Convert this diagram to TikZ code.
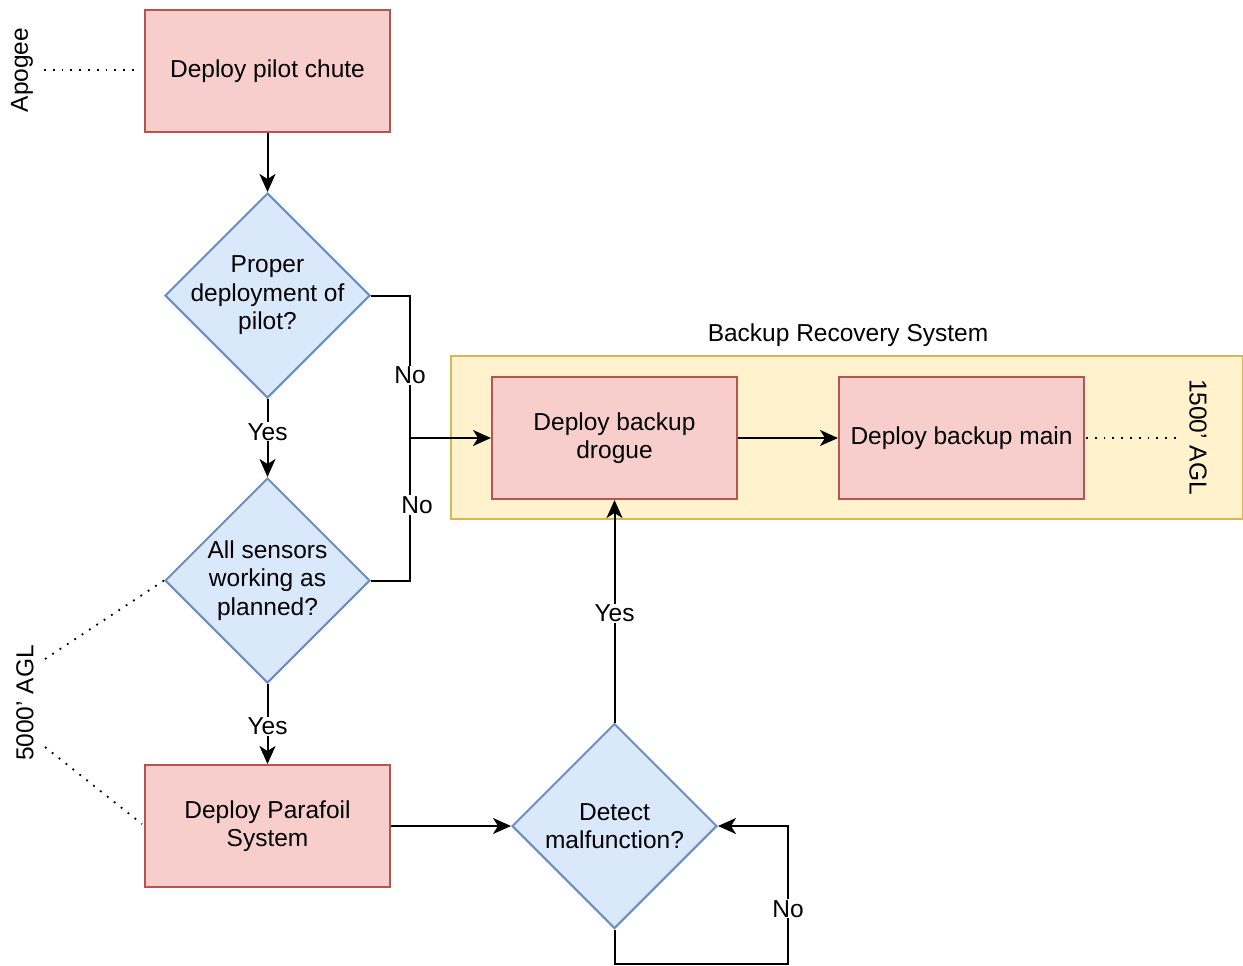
\documentclass[tikz,border=0pt]{standalone}
\usepackage{fontspec}
\setmainfont{Liberation Sans}
\usetikzlibrary{shapes.geometric,arrows.meta}
\definecolor{redfill}{HTML}{F8CECC}
\definecolor{redline}{HTML}{B85450}
\definecolor{bluefill}{HTML}{DAE8FC}
\definecolor{blueline}{HTML}{6C8EBF}
\definecolor{yelfill}{HTML}{FFF2CC}
\definecolor{yelline}{HTML}{D6B656}
\tikzset{
  redbox/.style={draw=redline, fill=redfill, line width=2pt, minimum width=245pt, minimum height=122pt, inner sep=0pt, align=center},
  decision/.style={diamond, draw=blueline, fill=bluefill, line width=2pt, minimum width=205pt, minimum height=205pt, shape aspect=1, inner sep=-12pt, align=center},
  flow/.style={line width=2pt, -{Stealth[length=18pt,width=16pt,inset=5pt]}},
  plainline/.style={line width=2pt},
  lbl/.style={fill=white, inner sep=1pt},
  dots/.style={line width=1.8pt, dash pattern=on 1.8pt off 7pt},
  txt/.style={font=\fontsize{24.5pt}{28.5pt}\selectfont}
}
\begin{document}
\begin{tikzpicture}[x=1pt,y=-1pt, every node/.style={txt}]
\useasboundingbox (0,0) rectangle (1243,966);
% container
\node[draw=yelline, fill=yelfill, line width=2pt, minimum width=792pt, minimum height=163pt, inner sep=0pt] (cont) at (847,437.5) {};
\node (contlbl) at (848,335) {Backup Recovery System};
% nodes
\node[redbox] (pilot) at (267.5,71) {Deploy pilot chute};
\node[decision] (d1) at (267.5,295.5) {Proper\\deployment of\\pilot?};
\node[decision] (d2) at (267.5,580.5) {All sensors\\working as\\planned?};
\node[redbox] (para) at (267.5,826) {Deploy Parafoil\\System};
\node[decision] (d3) at (614.5,826) {Detect\\malfunction?};
\node[redbox] (drogue) at (614.5,438) {Deploy backup\\drogue};
\node[redbox] (main) at (961.5,438) {Deploy backup main};
% side labels
\node[rotate=90] (apogee) at (22,70) {Apogee};
\node[rotate=90] (agl5) at (25,703) {5000' AGL};
\node[rotate=-90] (agl15) at (1198,437) {1500' AGL};
% coordinates
\coordinate (j1) at (410,295.5);
\coordinate (j2) at (410,580.5);
\coordinate (jm) at (410,438);
\coordinate (l1) at (614.5,964);
\coordinate (l2) at (788,964);
\coordinate (l3) at (788,826);
\coordinate (a1) at (44,70);
\coordinate (a2) at (139,70);
\coordinate (b1) at (1086,438);
\coordinate (b2) at (1180,438);
\coordinate (c1) at (45,659);
\coordinate (c2) at (45,747);
\coordinate (c3) at (142,824);
% connectors
\draw[flow] (pilot.south) -- (d1.north);
\draw[flow] (d1.south) -- node[lbl, pos=0.42] {Yes} (d2.north);
\draw[flow] (d2.south) -- node[lbl, pos=0.53] {Yes} (para.north);
\draw[plainline] (d1.east) -- (j1) -- node[lbl, pos=0.56] (no1) {No} (jm);
\draw[plainline] (d2.east) -- (j2) -- node[lbl, pos=0.53, xshift=7pt] (no2) {No} (jm);
\draw[flow] (jm) -- (drogue.west);
\draw[flow] (drogue.east) -- (main.west);
\draw[flow] (para.east) -- (d3.west);
\draw[flow] (d3.north) -- node[lbl, pos=0.49] {Yes} (drogue.south);
\draw[flow] (d3.south) -- (l1) -- (l2) -- node[lbl, pos=0.4] {No} (l3) -- (d3.east);
% dotted
\draw[dots] (a1) -- (a2);
\draw[dots] (b1) -- (b2);
\draw[dots] (c1) -- (d2.west);
\draw[dots] (c2) -- (c3);
\end{tikzpicture}
\end{document}
